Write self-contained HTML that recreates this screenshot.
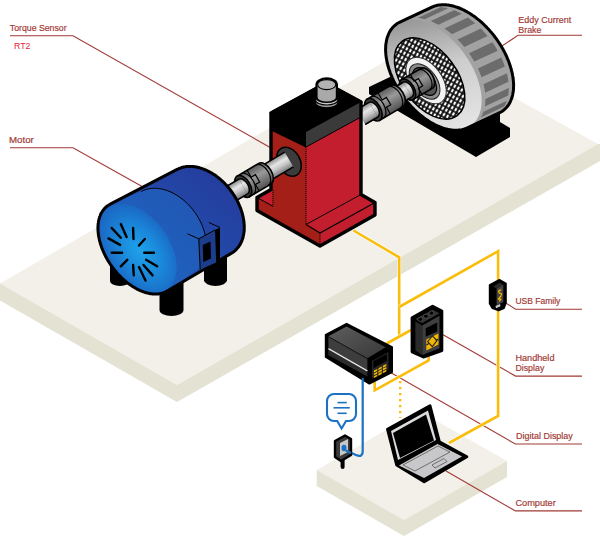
<!DOCTYPE html>
<html><head><meta charset="utf-8"><style>
html,body{margin:0;padding:0;background:#fff;width:600px;height:539px;overflow:hidden}
svg{display:block}
text{font-family:"Liberation Sans",sans-serif}
</style></head><body>
<svg width="600" height="539" viewBox="0 0 600 539">

<defs>
<radialGradient id="motorFace" cx="0.54" cy="0.5" r="0.62">
  <stop offset="0" stop-color="#1ea2ea"/><stop offset="0.45" stop-color="#1a88da"/><stop offset="0.8" stop-color="#1b6cc6"/><stop offset="1" stop-color="#1f58b6"/>
</radialGradient>
<linearGradient id="motorBody" x1="0" y1="1" x2="1" y2="0">
  <stop offset="0" stop-color="#1f5cbb"/><stop offset="1" stop-color="#25399a"/>
</linearGradient>
<linearGradient id="shaftG" x1="0" y1="0" x2="0" y2="1">
  <stop offset="0" stop-color="#8a8a8c"/><stop offset="0.35" stop-color="#e6e6e6"/><stop offset="0.6" stop-color="#c9c9cb"/><stop offset="1" stop-color="#7a7a7c"/>
</linearGradient>
<linearGradient id="coupG" x1="0" y1="0" x2="0" y2="1">
  <stop offset="0" stop-color="#5a5a5a"/><stop offset="0.4" stop-color="#9a9a9a"/><stop offset="1" stop-color="#505050"/>
</linearGradient>
<linearGradient id="rimG" gradientUnits="userSpaceOnUse" x1="420" y1="15" x2="445" y2="130">
  <stop offset="0" stop-color="#959595"/><stop offset="0.45" stop-color="#cdcdcd"/><stop offset="1" stop-color="#e4e4e4"/>
</linearGradient>
<linearGradient id="boxTop" x1="0" y1="0" x2="1" y2="1">
  <stop offset="0" stop-color="#5e5e5e"/><stop offset="1" stop-color="#383838"/>
</linearGradient>
<pattern id="mesh" width="4" height="5" patternUnits="userSpaceOnUse" patternTransform="rotate(-25)">
  <rect width="4" height="5" fill="#0a0a0a"/><rect x="0.9" y="0.8" width="2.2" height="3.4" fill="#f8f8f8"/>
</pattern>
<linearGradient id="capG" x1="0" y1="1" x2="1" y2="0">
  <stop offset="0" stop-color="#1d68c6"/><stop offset="1" stop-color="#2355b2"/>
</linearGradient>
</defs>
<polygon points="0,283.5 416,43.5 598,144 177,385" fill="#f2f0e9"/>
<polygon points="0,283.5 177,385 177,402 0,300.5" fill="#e4e2d3"/>
<polygon points="177,385 598,144 600,144 600,161 177,402" fill="#e4e2d3"/>
<polygon points="316.7,470 419,411 507,461 404,520" fill="#f2f0e9"/>
<polygon points="316.7,470 404,520 404,536 316.7,486" fill="#e4e2d3"/>
<polygon points="404,520 507,461 507,477 404,536" fill="#e4e2d3"/>
<polyline points="10,35.7 73,35.7 272,148.5" fill="none" stroke="#a23a35" stroke-width="1.1"/>
<polyline points="10,147.7 73,147.7 143,187" fill="none" stroke="#a23a35" stroke-width="1.1"/>
<polyline points="582,35.3 518,35.3 499,48" fill="none" stroke="#a23a35" stroke-width="1.1"/>
<polyline points="582,309.2 515.6,309.2 505,302.5" fill="none" stroke="#a23a35" stroke-width="1.1"/>
<polyline points="582,376.1 515.6,376.1 440,333" fill="none" stroke="#a23a35" stroke-width="1.1"/>
<polyline points="582,444 515.4,444 391,372.8" fill="none" stroke="#a23a35" stroke-width="1.1"/>
<polyline points="582,510.9 515.4,510.9 446,471" fill="none" stroke="#a23a35" stroke-width="1.1"/>
<polyline points="353.5,230.5 399.2,257.3 399.2,337" fill="none" stroke="#fff" stroke-width="3.8" stroke-linejoin="miter" opacity="0.9" />
<polyline points="353.5,230.5 399.2,257.3 399.2,337" fill="none" stroke="#fabd0c" stroke-width="2.6" stroke-linejoin="miter" />
<polyline points="399.2,307 498.1,251.2 498.1,416 449,443" fill="none" stroke="#fff" stroke-width="3.8" stroke-linejoin="miter" opacity="0.9" />
<polyline points="399.2,307 498.1,251.2 498.1,416 449,443" fill="none" stroke="#fabd0c" stroke-width="2.6" stroke-linejoin="miter" />
<polyline points="386,344 411,330" fill="none" stroke="#fff" stroke-width="3.8" stroke-linejoin="miter" opacity="0.9" />
<polyline points="386,344 411,330" fill="none" stroke="#fabd0c" stroke-width="2.6" stroke-linejoin="miter" />
<polyline points="374.7,382 374.7,390.4 428.6,360.5 428.6,356" fill="none" stroke="#fff" stroke-width="3.8" stroke-linejoin="miter" opacity="0.9" />
<polyline points="374.7,382 374.7,390.4 428.6,360.5 428.6,356" fill="none" stroke="#fabd0c" stroke-width="2.6" stroke-linejoin="miter" />
<polyline points="400.2,381 400.2,418" fill="none" stroke="#fabd0c" stroke-width="2.4" stroke-dasharray="2.2 3.8"/>
<polygon points="369,87 369,94 476,157 510,137 510,128 500,122 500,100 440,60 392,76" fill="#000"/>
<polygon points="385.6,49.6 385.6,48.3 385.7,47.1 385.7,45.8 385.8,44.6 386,43.4 386.2,42.2 386.4,41.1 386.6,39.9 386.9,38.8 387.2,37.8 387.5,36.7 387.9,35.7 388.3,34.7 388.7,33.7 389.2,32.7 389.6,31.8 390.2,30.9 390.7,30.1 391.3,29.2 391.9,28.5 392.5,27.7 393.2,27 393.9,26.3 394.6,25.6 395.4,25 396.1,24.4 396.9,23.8 397.7,23.3 398.6,22.8 399.5,22.3 400.4,21.9 432.4,6.9 433.3,6.5 434.2,6.2 435.2,5.9 436.2,5.6 437.2,5.3 438.2,5.1 439.2,5 440.3,4.9 441.4,4.8 442.5,4.7 443.6,4.7 444.7,4.7 445.8,4.8 447,4.9 448.1,5 449.3,5.2 450.5,5.4 451.7,5.7 452.9,6 454.1,6.3 455.3,6.7 456.6,7.1 457.8,7.5 459.1,8 460.3,8.5 461.6,9 462.8,9.6 464.1,10.2 465.3,10.9 466.6,11.6 467.8,12.3 469.1,13 470.3,13.8 471.6,14.6 472.8,15.5 474.1,16.3 475.3,17.2 476.5,18.2 477.7,19.1 479,20.1 480.2,21.1 481.4,22.2 482.5,23.2 483.7,24.3 484.9,25.5 486,26.6 487.1,27.8 488.3,29 489.4,30.2 490.4,31.4 491.5,32.6 492.6,33.9 493.6,35.2 494.6,36.5 495.6,37.8 496.6,39.1 497.5,40.5 498.4,41.9 499.3,43.2 500.2,44.6 501.1,46 501.9,47.4 502.7,48.8 503.5,50.2 504.3,51.7 505,53.1 505.7,54.5 506.4,56 507,57.4 507.6,58.9 508.2,60.3 508.8,61.8 509.3,63.2 509.8,64.7 510.3,66.1 510.7,67.5 511.2,69 511.5,70.4 511.9,71.8 512.2,73.2 512.5,74.6 512.7,76 513,77.4 513.1,78.8 513.3,80.1 513.4,81.5 513.5,82.8 513.6,84.1 513.6,85.4 513.6,86.7 513.5,87.9 513.5,89.2 513.4,90.4 513.2,91.6 513,92.8 512.8,93.9 512.6,95.1 512.3,96.2 512,97.2 511.7,98.3 511.3,99.3 510.9,100.3 510.5,101.3 510,102.3 509.6,103.2 509,104.1 508.5,104.9 507.9,105.8 507.3,106.5 506.7,107.3 506,108 505.3,108.7 504.6,109.4 503.8,110 503.1,110.6 502.3,111.2 501.5,111.7 500.6,112.2 499.7,112.7 498.8,113.1 466.8,128.1 465.9,128.5 465,128.8 464,129.1 463,129.4 462,129.7 461,129.9 460,130 458.9,130.1 457.8,130.2 456.7,130.3 455.6,130.3 454.5,130.3 453.4,130.2 452.2,130.1 451.1,130 449.9,129.8 448.7,129.6 447.5,129.3 446.3,129 445.1,128.7 443.9,128.3 442.6,127.9 441.4,127.5 440.1,127 438.9,126.5 437.6,126 436.4,125.4 435.1,124.8 433.9,124.1 432.6,123.4 431.4,122.7 430.1,122 428.9,121.2 427.6,120.4 426.4,119.5 425.1,118.7 423.9,117.8 422.7,116.8 421.5,115.9 420.2,114.9 419,113.9 417.8,112.8 416.7,111.8 415.5,110.7 414.3,109.5 413.2,108.4 412.1,107.2 410.9,106 409.8,104.8 408.8,103.6 407.7,102.4 406.6,101.1 405.6,99.8 404.6,98.5 403.6,97.2 402.6,95.9 401.7,94.5 400.8,93.1 399.9,91.8 399,90.4 398.1,89 397.3,87.6 396.5,86.2 395.7,84.8 394.9,83.3 394.2,81.9 393.5,80.5 392.8,79 392.2,77.6 391.6,76.1 391,74.7 390.4,73.2 389.9,71.8 389.4,70.3 388.9,68.9 388.5,67.5 388,66 387.7,64.6 387.3,63.2 387,61.8 386.7,60.4 386.5,59 386.2,57.6 386.1,56.2 385.9,54.9 385.8,53.5 385.7,52.2 385.6,50.9" fill="#a2a2a2"/>
<polygon points="406.1,19.3 407.3,19 408.5,18.7 409.7,18.4 411,18.2 412.3,18 435.7,7.1 434.4,7.2 433.1,7.4 431.9,7.7 430.7,8 429.5,8.4" fill="#6c6c6c"/>
<polygon points="417.6,18 419,18.1 420.5,18.3 421.9,18.6 423.4,18.9 424.8,19.2 448.2,8.3 446.7,7.9 445.3,7.6 443.8,7.4 442.4,7.2 441,7.1" fill="#6c6c6c"/>
<polygon points="430.8,21.1 432.3,21.8 433.8,22.4 435.3,23.2 436.9,23.9 438.4,24.8 461.8,13.8 460.2,13 458.7,12.2 457.2,11.5 455.6,10.8 454.1,10.2" fill="#6c6c6c"/>
<polygon points="444.4,28.5 445.9,29.6 447.4,30.7 448.9,31.8 450.4,33 451.9,34.2 475.2,23.3 473.8,22.1 472.3,20.9 470.8,19.7 469.3,18.6 467.8,17.5" fill="#6c6c6c"/>
<polygon points="457.5,39.5 458.9,40.9 460.3,42.3 461.6,43.8 462.9,45.3 464.2,46.9 487.6,35.9 486.3,34.4 485,32.9 483.6,31.4 482.3,29.9 480.9,28.5" fill="#6c6c6c"/>
<polygon points="469,53.2 470.1,54.8 471.2,56.5 472.3,58.2 473.3,59.9 474.3,61.6 497.7,50.7 496.7,49 495.7,47.2 494.6,45.6 493.5,43.9 492.3,42.2" fill="#6c6c6c"/>
<polygon points="477.9,68.5 478.7,70.3 479.5,72 480.2,73.8 480.9,75.6 481.5,77.3 504.8,66.4 504.2,64.6 503.5,62.8 502.8,61.1 502.1,59.3 501.3,57.5" fill="#6c6c6c"/>
<polygon points="483.5,84.2 483.9,85.9 484.3,87.7 484.6,89.4 484.9,91 485.1,92.7 508.4,81.7 508.2,80.1 508,78.4 507.7,76.7 507.3,75 506.9,73.3" fill="#6c6c6c"/>
<polygon points="485.4,99 485.4,100.6 485.3,102.1 485.2,103.6 485,105.1 484.8,106.5 508.2,95.5 508.4,94.1 508.6,92.6 508.7,91.2 508.8,89.6 508.8,88.1" fill="#6c6c6c"/>
<polygon points="483.4,111.8 483,113 482.5,114.2 481.9,115.4 481.3,116.5 480.7,117.6 504,106.6 504.7,105.5 505.3,104.4 505.8,103.3 506.3,102.1 506.8,100.8" fill="#6c6c6c"/>
<polygon points="477.7,121.4 476.9,122.2 476,123 475.1,123.7 474.1,124.4 473.1,125.1 496.4,114.1 497.4,113.5 498.4,112.8 499.3,112 500.2,111.3 501.1,110.4" fill="#6c6c6c"/>
<polygon points="471.1,125.6 470,126.4 468.9,127.1 467.7,127.7 466.5,128.2 465.3,128.7 464,129.1 462.7,129.5 461.4,129.8 460,130 458.6,130.2 457.1,130.3 455.6,130.3 454.1,130.2 452.6,130.1 451.1,130 449.5,129.7 447.9,129.4 446.3,129 444.7,128.6 443,128.1 441.4,127.5 439.7,126.8 438.1,126.1 436.4,125.4 434.7,124.5 433,123.7 431.4,122.7 429.7,121.7 428,120.7 426.4,119.5 424.7,118.4 423.1,117.1 421.5,115.9 419.8,114.5 418.2,113.2 416.7,111.8 415.1,110.3 413.6,108.8 412.1,107.2 410.6,105.6 409.1,104 407.7,102.4 406.3,100.7 404.9,98.9 403.6,97.2 402.3,95.4 401.1,93.6 399.9,91.8 398.7,89.9 397.6,88.1 396.5,86.2 395.4,84.3 394.4,82.4 393.5,80.5 392.6,78.5 391.8,76.6 391,74.7 390.2,72.7 389.5,70.8 388.9,68.9 388.3,67 387.8,65.1 387.3,63.2 386.9,61.3 386.5,59.4 386.2,57.6 386,55.8 385.8,54 385.7,52.2 385.6,50.5 385.6,48.8 385.7,47.1 385.8,45.4 385.9,43.8 386.2,42.2 386.4,40.7 386.8,39.2 387.2,37.8 387.6,36.4 388.1,35 388.7,33.7 389.3,32.4 390,31.2 390.7,30.1 391.5,29 392.3,27.9 393.2,27 394.1,26 395.1,25.2 396.1,24.4 397.2,23.6 398.3,22.9 399.5,22.3 400.7,21.8 401.9,21.3 403.2,20.9 404.5,20.5 405.8,20.2 407.2,20 408.6,19.8 410.1,19.7 411.6,19.7 413.1,19.8 414.6,19.9 416.1,20 417.7,20.3 419.3,20.6 420.9,21 422.5,21.4 424.2,21.9 425.8,22.5 427.5,23.2 429.1,23.9 430.8,24.6 432.5,25.5 434.2,26.3 435.8,27.3 437.5,28.3 439.2,29.3 440.8,30.5 442.5,31.6 444.1,32.9 445.7,34.1 447.4,35.5 449,36.8 450.5,38.2 452.1,39.7 453.6,41.2 455.1,42.8 456.6,44.4 458.1,46 459.5,47.6 460.9,49.3 462.3,51.1 463.6,52.8 464.9,54.6 466.1,56.4 467.3,58.2 468.5,60.1 469.6,61.9 470.7,63.8 471.8,65.7 472.8,67.6 473.7,69.5 474.6,71.5 475.4,73.4 476.2,75.3 477,77.3 477.7,79.2 478.3,81.1 478.9,83 479.4,84.9 479.9,86.8 480.3,88.7 480.7,90.6 481,92.4 481.2,94.2 481.4,96 481.5,97.8 481.6,99.5 481.6,101.2 481.5,102.9 481.4,104.6 481.3,106.2 481,107.8 480.8,109.3 480.4,110.8 480,112.2 479.6,113.6 479.1,115 478.5,116.3 477.9,117.6 477.2,118.8 476.5,119.9 475.7,121 474.9,122.1 474,123 473.1,124 472.1,124.8" fill="url(#rimG)"/>
<polygon points="385.6,49.6 385.6,48.3 385.7,47.1 385.7,45.8 385.8,44.6 386,43.4 386.2,42.2 386.4,41.1 386.6,39.9 386.9,38.8 387.2,37.8 387.5,36.7 387.9,35.7 388.3,34.7 388.7,33.7 389.2,32.7 389.6,31.8 390.2,30.9 390.7,30.1 391.3,29.2 391.9,28.5 392.5,27.7 393.2,27 393.9,26.3 394.6,25.6 395.4,25 396.1,24.4 396.9,23.8 397.7,23.3 398.6,22.8 399.5,22.3 400.4,21.9 432.4,6.9 433.3,6.5 434.2,6.2 435.2,5.9 436.2,5.6 437.2,5.3 438.2,5.1 439.2,5 440.3,4.9 441.4,4.8 442.5,4.7 443.6,4.7 444.7,4.7 445.8,4.8 447,4.9 448.1,5 449.3,5.2 450.5,5.4 451.7,5.7 452.9,6 454.1,6.3 455.3,6.7 456.6,7.1 457.8,7.5 459.1,8 460.3,8.5 461.6,9 462.8,9.6 464.1,10.2 465.3,10.9 466.6,11.6 467.8,12.3 469.1,13 470.3,13.8 471.6,14.6 472.8,15.5 474.1,16.3 475.3,17.2 476.5,18.2 477.7,19.1 479,20.1 480.2,21.1 481.4,22.2 482.5,23.2 483.7,24.3 484.9,25.5 486,26.6 487.1,27.8 488.3,29 489.4,30.2 490.4,31.4 491.5,32.6 492.6,33.9 493.6,35.2 494.6,36.5 495.6,37.8 496.6,39.1 497.5,40.5 498.4,41.9 499.3,43.2 500.2,44.6 501.1,46 501.9,47.4 502.7,48.8 503.5,50.2 504.3,51.7 505,53.1 505.7,54.5 506.4,56 507,57.4 507.6,58.9 508.2,60.3 508.8,61.8 509.3,63.2 509.8,64.7 510.3,66.1 510.7,67.5 511.2,69 511.5,70.4 511.9,71.8 512.2,73.2 512.5,74.6 512.7,76 513,77.4 513.1,78.8 513.3,80.1 513.4,81.5 513.5,82.8 513.6,84.1 513.6,85.4 513.6,86.7 513.5,87.9 513.5,89.2 513.4,90.4 513.2,91.6 513,92.8 512.8,93.9 512.6,95.1 512.3,96.2 512,97.2 511.7,98.3 511.3,99.3 510.9,100.3 510.5,101.3 510,102.3 509.6,103.2 509,104.1 508.5,104.9 507.9,105.8 507.3,106.5 506.7,107.3 506,108 505.3,108.7 504.6,109.4 503.8,110 503.1,110.6 502.3,111.2 501.5,111.7 500.6,112.2 499.7,112.7 498.8,113.1 466.8,128.1 465.9,128.5 465,128.8 464,129.1 463,129.4 462,129.7 461,129.9 460,130 458.9,130.1 457.8,130.2 456.7,130.3 455.6,130.3 454.5,130.3 453.4,130.2 452.2,130.1 451.1,130 449.9,129.8 448.7,129.6 447.5,129.3 446.3,129 445.1,128.7 443.9,128.3 442.6,127.9 441.4,127.5 440.1,127 438.9,126.5 437.6,126 436.4,125.4 435.1,124.8 433.9,124.1 432.6,123.4 431.4,122.7 430.1,122 428.9,121.2 427.6,120.4 426.4,119.5 425.1,118.7 423.9,117.8 422.7,116.8 421.5,115.9 420.2,114.9 419,113.9 417.8,112.8 416.7,111.8 415.5,110.7 414.3,109.5 413.2,108.4 412.1,107.2 410.9,106 409.8,104.8 408.8,103.6 407.7,102.4 406.6,101.1 405.6,99.8 404.6,98.5 403.6,97.2 402.6,95.9 401.7,94.5 400.8,93.1 399.9,91.8 399,90.4 398.1,89 397.3,87.6 396.5,86.2 395.7,84.8 394.9,83.3 394.2,81.9 393.5,80.5 392.8,79 392.2,77.6 391.6,76.1 391,74.7 390.4,73.2 389.9,71.8 389.4,70.3 388.9,68.9 388.5,67.5 388,66 387.7,64.6 387.3,63.2 387,61.8 386.7,60.4 386.5,59 386.2,57.6 386.1,56.2 385.9,54.9 385.8,53.5 385.7,52.2 385.6,50.9" fill="none" stroke="#000" stroke-width="3" stroke-linejoin="round"/>
<ellipse cx="429.6" cy="78.5" rx="46.3" ry="27.4" transform="rotate(53.5 429.6 78.5)" fill="url(#mesh)" stroke="#000" stroke-width="1.5"/>
<ellipse cx="426.1" cy="80.5" rx="26.5" ry="15.7" transform="rotate(53.5 426.1 80.5)" fill="#f2f2f2" stroke="#333" stroke-width="1"/>
<ellipse cx="424.6" cy="81.5" rx="20.2" ry="11.9" transform="rotate(53.5 424.6 81.5)" fill="#8a8a8a" stroke="#222" stroke-width="1"/>
<ellipse cx="424.6" cy="81.5" rx="15.8" ry="9.3" transform="rotate(53.5 424.6 81.5)" fill="#555" stroke="#000" stroke-width="1.2"/>
<g transform="translate(361 117) rotate(-30.5)">
<rect x="0" y="-8.5" width="74.3" height="17" fill="url(#shaftG)"/>
<line x1="0" y1="-8.5" x2="74.3" y2="-8.5" stroke="#000" stroke-width="1.5"/>
<line x1="0" y1="8.5" x2="74.3" y2="8.5" stroke="#000" stroke-width="1.5"/>
</g>
<g transform="translate(417 84) rotate(-30.5)">
<path d="M-11 -11.5 H11 A6.7 11.5 0 0 1 11 11.5 H-11 Z" fill="url(#coupG)" stroke="#000" stroke-width="1.6"/>
<path d="M-6.5 -11.5 A6.7 11.5 0 0 1 -6.5 11.5" fill="none" stroke="#000" stroke-width="1.2"/>
<path d="M-1 -11.5 V-4 H4 V4.5 H-1 V11.5" fill="none" stroke="#000" stroke-width="1.2"/>
<path d="M8 -11.5 A6.7 11.5 0 0 1 8 11.5" fill="none" stroke="#000" stroke-width="1.2"/>
<ellipse cx="-11" cy="0" rx="6.7" ry="11.5" fill="#3a3a3a" stroke="#000" stroke-width="1.6"/>
</g>
<g transform="translate(388 101.1) rotate(-30.5)">
<rect x="0" y="-8.5" width="22.7" height="17" fill="url(#shaftG)"/>
<path d="M22.7 -8.5 A4.9 8.5 0 0 1 22.7 8.5" fill="url(#shaftG)" stroke="#000" stroke-width="1.5"/>
<line x1="0" y1="-8.5" x2="22.7" y2="-8.5" stroke="#000" stroke-width="1.5"/>
<line x1="0" y1="8.5" x2="22.7" y2="8.5" stroke="#000" stroke-width="1.5"/>
</g>
<g transform="translate(385 102.9) rotate(-30.5)">
<path d="M-13.5 -12.3 H13.5 A7.1 12.3 0 0 1 13.5 12.3 H-13.5 Z" fill="url(#coupG)" stroke="#000" stroke-width="1.6"/>
<path d="M-9 -12.3 A7.1 12.3 0 0 1 -9 12.3" fill="none" stroke="#000" stroke-width="1.2"/>
<path d="M-1 -12.3 V-4 H4 V4.5 H-1 V12.3" fill="none" stroke="#000" stroke-width="1.2"/>
<path d="M10.5 -12.3 A7.1 12.3 0 0 1 10.5 12.3" fill="none" stroke="#000" stroke-width="1.2"/>
<ellipse cx="-13.5" cy="0" rx="7.1" ry="12.3" fill="#3a3a3a" stroke="#000" stroke-width="1.6"/>
</g>
<g transform="translate(361 117) rotate(-30.5)">
<rect x="0" y="-8.5" width="14.4" height="17" fill="url(#shaftG)"/>
<path d="M14.4 -8.5 A4.9 8.5 0 0 1 14.4 8.5" fill="url(#shaftG)" stroke="#000" stroke-width="1.5"/>
<line x1="0" y1="-8.5" x2="14.4" y2="-8.5" stroke="#000" stroke-width="1.5"/>
<line x1="0" y1="8.5" x2="14.4" y2="8.5" stroke="#000" stroke-width="1.5"/>
</g>
<polygon points="271,113 306,132 306,224.5 320,233 320,246 257,210.5 257,197.5 272,189" fill="#a31f17"/>
<polygon points="306,132 361,102 361,194.5 306,224.5" fill="#c21e2d"/>
<polygon points="271,113 326,83 361,102 306,132" fill="#000" stroke="#000" stroke-width="3" stroke-linejoin="round"/>
<polygon points="270,112 307,131 306,147 271,130" fill="#000"/>
<polygon points="306,132 361,102 361,117 306,147" fill="#3a3a3a"/>
<polygon points="257,197.5 272.5,189 273,206.3" fill="#c21e2d"/>
<polygon points="306,224.5 361,194.5 375,202.5 320,233" fill="#c21e2d"/>
<polygon points="320,233 375,202.5 375,215 320,246" fill="#c21e2d"/>
<polyline points="271,113 271,130 306,147 361,117" fill="none" stroke="#000" stroke-width="1"/>
<line x1="306" y1="147" x2="306" y2="224.5" stroke="#000" stroke-width="0.9" stroke-dasharray="1.2 0.8"/>
<line x1="273" y1="190" x2="273" y2="206.3" stroke="#000" stroke-width="0.9" stroke-dasharray="1.2 0.8"/>
<line x1="257" y1="197.5" x2="273" y2="206.3" stroke="#000" stroke-width="1"/>
<polyline points="306,224.5 320,233 375,202.5" fill="none" stroke="#000" stroke-width="1.2"/>
<line x1="320" y1="233" x2="320" y2="246" stroke="#000" stroke-width="0.9" stroke-dasharray="1.2 0.8"/>
<line x1="306" y1="224.5" x2="361" y2="194.5" stroke="#000" stroke-width="1"/>
<polygon points="271,113 326,83 361,102 361,194.5 375,202.5 375,215 320,246 257,210.5 257,197.5 271,189.5" fill="none" stroke="#000" stroke-width="3.4" stroke-linejoin="round"/>
<path d="M315.4,100 V102.6 A11.3,5.2 0 0 0 338,102.6 V100 Z" fill="#9c9c9c" stroke="#000" stroke-width="1.2"/>
<ellipse cx="326.7" cy="100" rx="11.3" ry="5" fill="#c8c8c8" stroke="#000" stroke-width="1.2"/>
<path d="M315.4,84.5 A11.3,7.2 0 0 1 338,84.5 V97.5 A11.3,5.6 0 0 1 315.4,97.5 Z" fill="#000"/>
<path d="M317.6,85 V97.2 A9.1,4.3 0 0 0 335.8,97.2 V85 Z" fill="#a9a9a9"/>
<ellipse cx="326.7" cy="84.6" rx="9.1" ry="5" fill="#b3b3b3" stroke="#000" stroke-width="1.1"/>
<ellipse cx="289" cy="161.7" rx="15.5" ry="11" transform="rotate(60 289 161.7)" fill="#3c3c3c" stroke="#000" stroke-width="1.5"/>
<g transform="translate(212 204.9) rotate(-30.5)">
<rect x="0" y="-8.5" width="89.4" height="17" fill="url(#shaftG)"/>
<line x1="0" y1="-8.5" x2="89.4" y2="-8.5" stroke="#000" stroke-width="1.5"/>
<line x1="0" y1="8.5" x2="89.4" y2="8.5" stroke="#000" stroke-width="1.5"/>
</g>
<g transform="translate(254 180.1) rotate(-30.5)">
<path d="M-12.5 -12 H12.5 A7 12 0 0 1 12.5 12 H-12.5 Z" fill="url(#coupG)" stroke="#000" stroke-width="1.6"/>
<path d="M-8 -12 A7 12 0 0 1 -8 12" fill="none" stroke="#000" stroke-width="1.2"/>
<path d="M-1 -12 V-4 H4 V4.5 H-1 V12" fill="none" stroke="#000" stroke-width="1.2"/>
<path d="M9.5 -12 A7 12 0 0 1 9.5 12" fill="none" stroke="#000" stroke-width="1.2"/>
<ellipse cx="-12.5" cy="0" rx="7" ry="12" fill="#3a3a3a" stroke="#000" stroke-width="1.6"/>
</g>
<g transform="translate(212 204.9) rotate(-30.5)">
<rect x="0" y="-8.5" width="36.3" height="17" fill="url(#shaftG)"/>
<path d="M36.3 -8.5 A4.9 8.5 0 0 1 36.3 8.5" fill="url(#shaftG)" stroke="#000" stroke-width="1.5"/>
<line x1="0" y1="-8.5" x2="36.3" y2="-8.5" stroke="#000" stroke-width="1.5"/>
<line x1="0" y1="8.5" x2="36.3" y2="8.5" stroke="#000" stroke-width="1.5"/>
</g>
<path d="M110 255 V281 A10 5 0 0 0 130 281 V255 Z" fill="#000"/>
<path d="M204 250 V280.2 A11.5 5.8 0 0 0 227 280.2 V250 Z" fill="#000"/>
<path d="M159.5 270 V310 A12 6 0 0 0 183.5 310 V270 Z" fill="#000"/>
<polygon points="97.9,228.2 98,227.1 98,226.1 98.1,225 98.1,224 98.3,223 98.4,222 98.6,221 98.8,220 99,219.1 99.3,218.1 99.5,217.2 99.9,216.3 100.2,215.5 100.5,214.6 100.9,213.8 101.3,213 101.8,212.2 102.2,211.5 102.7,210.8 103.2,210.1 103.8,209.4 104.3,208.7 104.9,208.1 105.5,207.5 106.1,207 106.8,206.4 107.4,205.9 108.1,205.5 108.8,205 109.6,204.6 110.3,204.2 177.6,169.2 178.5,168.8 179.3,168.4 180.1,168.1 181,167.8 181.8,167.5 182.7,167.3 183.6,167 184.5,166.9 185.5,166.7 186.4,166.6 187.4,166.5 188.3,166.4 189.3,166.4 190.3,166.4 191.3,166.4 192.3,166.5 193.3,166.6 194.3,166.7 195.4,166.8 196.4,167 197.4,167.2 198.5,167.5 199.5,167.8 200.6,168.1 201.6,168.4 202.7,168.8 203.7,169.2 204.8,169.6 205.8,170 206.9,170.5 207.9,171 209,171.6 210,172.1 211.1,172.7 212.1,173.3 213.1,174 214.1,174.6 215.2,175.3 216.2,176 217.2,176.8 218.2,177.6 219.1,178.3 220.1,179.2 221.1,180 222,180.8 223,181.7 223.9,182.6 224.8,183.5 225.7,184.5 226.6,185.4 227.4,186.4 228.3,187.4 229.1,188.4 229.9,189.4 230.7,190.5 231.5,191.5 232.3,192.6 233,193.7 233.7,194.8 234.4,195.9 235.1,197 235.8,198.1 236.4,199.2 237,200.4 237.6,201.5 238.2,202.7 238.7,203.8 239.2,205 239.7,206.2 240.2,207.3 240.7,208.5 241.1,209.7 241.5,210.9 241.9,212.1 242.2,213.2 242.5,214.4 242.8,215.6 243.1,216.8 243.3,217.9 243.5,219.1 243.7,220.3 243.9,221.4 244,222.6 244.1,223.7 244.2,224.8 244.2,226 244.3,227.1 244.2,228.2 244.2,229.3 244.2,230.4 244.1,231.4 243.9,232.5 243.8,233.5 243.6,234.5 243.4,235.5 243.2,236.5 243,237.5 242.7,238.5 242.4,239.4 242,240.3 241.7,241.2 241.3,242.1 240.9,243 240.5,243.8 240,244.6 239.5,245.4 239,246.2 238.5,246.9 237.9,247.6 237.3,248.3 236.7,249 236.1,249.6 235.5,250.3 234.8,250.8 234.1,251.4 233.4,252 232.7,252.5 231.9,252.9 231.1,253.4 167.2,291 166.4,291.4 165.7,291.8 164.9,292.2 164.1,292.5 163.3,292.8 162.5,293.1 161.7,293.3 160.8,293.5 160,293.7 159.1,293.8 158.2,293.9 157.3,294 156.3,294.1 155.4,294.1 154.4,294.1 153.5,294 152.5,293.9 151.5,293.8 150.5,293.7 149.5,293.5 148.5,293.3 147.5,293.1 146.5,292.8 145.5,292.5 144.4,292.2 143.4,291.8 142.4,291.5 141.3,291 140.3,290.6 139.2,290.1 138.2,289.6 137.1,289.1 136.1,288.5 135,287.9 134,287.3 132.9,286.7 131.9,286 130.9,285.3 129.8,284.6 128.8,283.9 127.8,283.1 126.8,282.3 125.8,281.5 124.8,280.6 123.8,279.8 122.8,278.9 121.9,278 120.9,277.1 120,276.1 119,275.1 118.1,274.2 117.2,273.2 116.3,272.1 115.4,271.1 114.6,270.1 113.7,269 112.9,267.9 112.1,266.8 111.3,265.7 110.5,264.6 109.8,263.5 109.1,262.3 108.3,261.2 107.6,260 107,258.8 106.3,257.7 105.7,256.5 105.1,255.3 104.5,254.1 103.9,252.9 103.4,251.7 102.9,250.5 102.4,249.3 101.9,248.1 101.5,246.9 101.1,245.7 100.7,244.5 100.3,243.3 100,242.1 99.6,240.9 99.4,239.7 99.1,238.5 98.9,237.3 98.6,236.1 98.5,235 98.3,233.8 98.2,232.7 98.1,231.6 98,230.4 98,229.3" fill="url(#motorBody)"/>
<clipPath id="mclip"><polygon points="97.9,228.2 98,227.1 98,226.1 98.1,225 98.1,224 98.3,223 98.4,222 98.6,221 98.8,220 99,219.1 99.3,218.1 99.5,217.2 99.9,216.3 100.2,215.5 100.5,214.6 100.9,213.8 101.3,213 101.8,212.2 102.2,211.5 102.7,210.8 103.2,210.1 103.8,209.4 104.3,208.7 104.9,208.1 105.5,207.5 106.1,207 106.8,206.4 107.4,205.9 108.1,205.5 108.8,205 109.6,204.6 110.3,204.2 177.6,169.2 178.5,168.8 179.3,168.4 180.1,168.1 181,167.8 181.8,167.5 182.7,167.3 183.6,167 184.5,166.9 185.5,166.7 186.4,166.6 187.4,166.5 188.3,166.4 189.3,166.4 190.3,166.4 191.3,166.4 192.3,166.5 193.3,166.6 194.3,166.7 195.4,166.8 196.4,167 197.4,167.2 198.5,167.5 199.5,167.8 200.6,168.1 201.6,168.4 202.7,168.8 203.7,169.2 204.8,169.6 205.8,170 206.9,170.5 207.9,171 209,171.6 210,172.1 211.1,172.7 212.1,173.3 213.1,174 214.1,174.6 215.2,175.3 216.2,176 217.2,176.8 218.2,177.6 219.1,178.3 220.1,179.2 221.1,180 222,180.8 223,181.7 223.9,182.6 224.8,183.5 225.7,184.5 226.6,185.4 227.4,186.4 228.3,187.4 229.1,188.4 229.9,189.4 230.7,190.5 231.5,191.5 232.3,192.6 233,193.7 233.7,194.8 234.4,195.9 235.1,197 235.8,198.1 236.4,199.2 237,200.4 237.6,201.5 238.2,202.7 238.7,203.8 239.2,205 239.7,206.2 240.2,207.3 240.7,208.5 241.1,209.7 241.5,210.9 241.9,212.1 242.2,213.2 242.5,214.4 242.8,215.6 243.1,216.8 243.3,217.9 243.5,219.1 243.7,220.3 243.9,221.4 244,222.6 244.1,223.7 244.2,224.8 244.2,226 244.3,227.1 244.2,228.2 244.2,229.3 244.2,230.4 244.1,231.4 243.9,232.5 243.8,233.5 243.6,234.5 243.4,235.5 243.2,236.5 243,237.5 242.7,238.5 242.4,239.4 242,240.3 241.7,241.2 241.3,242.1 240.9,243 240.5,243.8 240,244.6 239.5,245.4 239,246.2 238.5,246.9 237.9,247.6 237.3,248.3 236.7,249 236.1,249.6 235.5,250.3 234.8,250.8 234.1,251.4 233.4,252 232.7,252.5 231.9,252.9 231.1,253.4 167.2,291 166.4,291.4 165.7,291.8 164.9,292.2 164.1,292.5 163.3,292.8 162.5,293.1 161.7,293.3 160.8,293.5 160,293.7 159.1,293.8 158.2,293.9 157.3,294 156.3,294.1 155.4,294.1 154.4,294.1 153.5,294 152.5,293.9 151.5,293.8 150.5,293.7 149.5,293.5 148.5,293.3 147.5,293.1 146.5,292.8 145.5,292.5 144.4,292.2 143.4,291.8 142.4,291.5 141.3,291 140.3,290.6 139.2,290.1 138.2,289.6 137.1,289.1 136.1,288.5 135,287.9 134,287.3 132.9,286.7 131.9,286 130.9,285.3 129.8,284.6 128.8,283.9 127.8,283.1 126.8,282.3 125.8,281.5 124.8,280.6 123.8,279.8 122.8,278.9 121.9,278 120.9,277.1 120,276.1 119,275.1 118.1,274.2 117.2,273.2 116.3,272.1 115.4,271.1 114.6,270.1 113.7,269 112.9,267.9 112.1,266.8 111.3,265.7 110.5,264.6 109.8,263.5 109.1,262.3 108.3,261.2 107.6,260 107,258.8 106.3,257.7 105.7,256.5 105.1,255.3 104.5,254.1 103.9,252.9 103.4,251.7 102.9,250.5 102.4,249.3 101.9,248.1 101.5,246.9 101.1,245.7 100.7,244.5 100.3,243.3 100,242.1 99.6,240.9 99.4,239.7 99.1,238.5 98.9,237.3 98.6,236.1 98.5,235 98.3,233.8 98.2,232.7 98.1,231.6 98,230.4 98,229.3"/></clipPath>
<g clip-path="url(#mclip)">
<polygon points="97.9,228.2 98,227.1 98,226.1 98.1,225 98.1,224 98.3,223 98.4,222 98.6,221 98.8,220 99,219.1 99.3,218.1 99.5,217.2 99.9,216.3 100.2,215.5 100.5,214.6 100.9,213.8 101.3,213 101.8,212.2 102.2,211.5 102.7,210.8 103.2,210.1 103.8,209.4 104.3,208.7 104.9,208.1 105.5,207.5 106.1,207 106.8,206.4 107.4,205.9 108.1,205.5 108.8,205 109.6,204.6 110.3,204.2 111.1,203.8 111.9,203.5 143.5,190.5 144.3,190.1 145.2,189.8 146,189.5 146.9,189.3 147.8,189 148.7,188.8 149.6,188.7 150.6,188.5 151.5,188.4 152.5,188.3 153.4,188.3 154.4,188.3 155.4,188.3 156.4,188.3 157.4,188.4 158.4,188.5 159.4,188.6 160.4,188.8 161.4,189 162.4,189.2 163.5,189.4 164.5,189.7 165.5,190 166.5,190.3 167.6,190.7 168.6,191.1 169.6,191.5 170.7,192 171.7,192.4 172.7,192.9 173.7,193.5 174.7,194 175.8,194.6 176.8,195.2 177.8,195.8 178.7,196.5 179.7,197.2 180.7,197.9 181.7,198.6 182.6,199.4 183.6,200.1 184.5,200.9 185.4,201.7 186.3,202.6 187.2,203.4 188.1,204.3 188.9,205.2 189.8,206.1 190.6,207.1 191.4,208 192.2,209 193,210 193.8,210.9 194.5,212 195.3,213 196,214 196.7,215.1 197.3,216.1 198,217.2 198.6,218.3 199.2,219.4 199.8,220.5 200.4,221.6 200.9,222.7 201.4,223.8 201.9,224.9 202.4,226.1 202.8,227.2 203.2,228.3 203.6,229.5 204,230.6 204.4,231.8 204.7,232.9 205,234 205.2,235.2 205.5,236.3 205.7,237.5 205.9,238.6 206,239.7 206.2,240.8 206.3,242 206.4,243.1 206.4,244.2 206.4,245.3 206.4,246.4 206.4,247.4 206.4,248.5 206.3,249.5 206.2,250.6 206,251.6 205.9,252.6 205.7,253.6 205.5,254.6 205.2,255.6 205,256.5 204.7,257.5 204.3,258.4 204,259.3 203.6,260.2 203.2,261 202.8,261.9 202.4,262.7 201.9,263.5 201.4,264.3 200.9,265 200.4,265.8 199.8,266.5 199.2,267.2 198.6,267.8 198,268.5 197.3,269.1 196.7,269.7 196,270.2 195.3,270.8 168.6,290.1 167.9,290.5 167.2,291 166.4,291.4 165.7,291.8 164.9,292.2 164.1,292.5 163.3,292.8 162.5,293.1 161.7,293.3 160.8,293.5 160,293.7 159.1,293.8 158.2,293.9 157.3,294 156.3,294.1 155.4,294.1 154.4,294.1 153.5,294 152.5,293.9 151.5,293.8 150.5,293.7 149.5,293.5 148.5,293.3 147.5,293.1 146.5,292.8 145.5,292.5 144.4,292.2 143.4,291.8 142.4,291.5 141.3,291 140.3,290.6 139.2,290.1 138.2,289.6 137.1,289.1 136.1,288.5 135,287.9 134,287.3 132.9,286.7 131.9,286 130.9,285.3 129.8,284.6 128.8,283.9 127.8,283.1 126.8,282.3 125.8,281.5 124.8,280.6 123.8,279.8 122.8,278.9 121.9,278 120.9,277.1 120,276.1 119,275.1 118.1,274.2 117.2,273.2 116.3,272.1 115.4,271.1 114.6,270.1 113.7,269 112.9,267.9 112.1,266.8 111.3,265.7 110.5,264.6 109.8,263.5 109.1,262.3 108.3,261.2 107.6,260 107,258.8 106.3,257.7 105.7,256.5 105.1,255.3 104.5,254.1 103.9,252.9 103.4,251.7 102.9,250.5 102.4,249.3 101.9,248.1 101.5,246.9 101.1,245.7 100.7,244.5 100.3,243.3 100,242.1 99.6,240.9 99.4,239.7 99.1,238.5 98.9,237.3 98.6,236.1 98.5,235 98.3,233.8 98.2,232.7 98.1,231.6 98,230.4 98,229.3" fill="url(#capG)"/>
<ellipse cx="138" cy="248" rx="50" ry="31" transform="rotate(54 138 248)" fill="url(#motorFace)"/>
</g>
<polyline points="141.3,191.5 142.9,190.7 144.6,190 146.3,189.4 148.1,189 149.9,188.6 151.8,188.4 153.7,188.3 155.7,188.3 157.7,188.4 159.7,188.7 161.7,189 163.8,189.5 165.9,190.1 167.9,190.8 170,191.7 172,192.6 174.1,193.7 176.1,194.8 178.1,196.1 180,197.4 182,198.9 183.9,200.4 185.7,202 187.5,203.7 189.2,205.5 190.9,207.4 192.5,209.3 194,211.3 195.5,213.3 196.9,215.4 198.2,217.6 199.4,219.7 200.6,221.9 201.6,224.2 202.5,226.4 203.4,228.7 204.1,231 204.8,233.3 205.3,235.6 205.8,237.8 206.1,240.1 206.3,242.3 206.4,244.5 206.4,246.7" fill="none" stroke="#000" stroke-width="1"/>
<polygon points="97.9,228.2 98,227.1 98,226.1 98.1,225 98.1,224 98.3,223 98.4,222 98.6,221 98.8,220 99,219.1 99.3,218.1 99.5,217.2 99.9,216.3 100.2,215.5 100.5,214.6 100.9,213.8 101.3,213 101.8,212.2 102.2,211.5 102.7,210.8 103.2,210.1 103.8,209.4 104.3,208.7 104.9,208.1 105.5,207.5 106.1,207 106.8,206.4 107.4,205.9 108.1,205.5 108.8,205 109.6,204.6 110.3,204.2 177.6,169.2 178.5,168.8 179.3,168.4 180.1,168.1 181,167.8 181.8,167.5 182.7,167.3 183.6,167 184.5,166.9 185.5,166.7 186.4,166.6 187.4,166.5 188.3,166.4 189.3,166.4 190.3,166.4 191.3,166.4 192.3,166.5 193.3,166.6 194.3,166.7 195.4,166.8 196.4,167 197.4,167.2 198.5,167.5 199.5,167.8 200.6,168.1 201.6,168.4 202.7,168.8 203.7,169.2 204.8,169.6 205.8,170 206.9,170.5 207.9,171 209,171.6 210,172.1 211.1,172.7 212.1,173.3 213.1,174 214.1,174.6 215.2,175.3 216.2,176 217.2,176.8 218.2,177.6 219.1,178.3 220.1,179.2 221.1,180 222,180.8 223,181.7 223.9,182.6 224.8,183.5 225.7,184.5 226.6,185.4 227.4,186.4 228.3,187.4 229.1,188.4 229.9,189.4 230.7,190.5 231.5,191.5 232.3,192.6 233,193.7 233.7,194.8 234.4,195.9 235.1,197 235.8,198.1 236.4,199.2 237,200.4 237.6,201.5 238.2,202.7 238.7,203.8 239.2,205 239.7,206.2 240.2,207.3 240.7,208.5 241.1,209.7 241.5,210.9 241.9,212.1 242.2,213.2 242.5,214.4 242.8,215.6 243.1,216.8 243.3,217.9 243.5,219.1 243.7,220.3 243.9,221.4 244,222.6 244.1,223.7 244.2,224.8 244.2,226 244.3,227.1 244.2,228.2 244.2,229.3 244.2,230.4 244.1,231.4 243.9,232.5 243.8,233.5 243.6,234.5 243.4,235.5 243.2,236.5 243,237.5 242.7,238.5 242.4,239.4 242,240.3 241.7,241.2 241.3,242.1 240.9,243 240.5,243.8 240,244.6 239.5,245.4 239,246.2 238.5,246.9 237.9,247.6 237.3,248.3 236.7,249 236.1,249.6 235.5,250.3 234.8,250.8 234.1,251.4 233.4,252 232.7,252.5 231.9,252.9 231.1,253.4 167.2,291 166.4,291.4 165.7,291.8 164.9,292.2 164.1,292.5 163.3,292.8 162.5,293.1 161.7,293.3 160.8,293.5 160,293.7 159.1,293.8 158.2,293.9 157.3,294 156.3,294.1 155.4,294.1 154.4,294.1 153.5,294 152.5,293.9 151.5,293.8 150.5,293.7 149.5,293.5 148.5,293.3 147.5,293.1 146.5,292.8 145.5,292.5 144.4,292.2 143.4,291.8 142.4,291.5 141.3,291 140.3,290.6 139.2,290.1 138.2,289.6 137.1,289.1 136.1,288.5 135,287.9 134,287.3 132.9,286.7 131.9,286 130.9,285.3 129.8,284.6 128.8,283.9 127.8,283.1 126.8,282.3 125.8,281.5 124.8,280.6 123.8,279.8 122.8,278.9 121.9,278 120.9,277.1 120,276.1 119,275.1 118.1,274.2 117.2,273.2 116.3,272.1 115.4,271.1 114.6,270.1 113.7,269 112.9,267.9 112.1,266.8 111.3,265.7 110.5,264.6 109.8,263.5 109.1,262.3 108.3,261.2 107.6,260 107,258.8 106.3,257.7 105.7,256.5 105.1,255.3 104.5,254.1 103.9,252.9 103.4,251.7 102.9,250.5 102.4,249.3 101.9,248.1 101.5,246.9 101.1,245.7 100.7,244.5 100.3,243.3 100,242.1 99.6,240.9 99.4,239.7 99.1,238.5 98.9,237.3 98.6,236.1 98.5,235 98.3,233.8 98.2,232.7 98.1,231.6 98,230.4 98,229.3" fill="none" stroke="#000" stroke-width="3" stroke-linejoin="round"/>
<line x1="111.7" y1="228" x2="120.8" y2="237.7" stroke="#000" stroke-width="2.4" stroke-linecap="round"/>
<line x1="120.8" y1="224.1" x2="126.6" y2="237.1" stroke="#000" stroke-width="2.4" stroke-linecap="round"/>
<line x1="133.1" y1="228" x2="133.5" y2="239" stroke="#000" stroke-width="2.4" stroke-linecap="round"/>
<line x1="144.8" y1="239" x2="139" y2="245.5" stroke="#000" stroke-width="2.4" stroke-linecap="round"/>
<line x1="144.2" y1="252.7" x2="153.9" y2="252.7" stroke="#000" stroke-width="2.4" stroke-linecap="round"/>
<line x1="146.1" y1="259.8" x2="157.1" y2="266.3" stroke="#000" stroke-width="2.4" stroke-linecap="round"/>
<line x1="143.5" y1="265" x2="152.6" y2="275.4" stroke="#000" stroke-width="2.4" stroke-linecap="round"/>
<line x1="139" y1="267" x2="145.5" y2="280.6" stroke="#000" stroke-width="2.4" stroke-linecap="round"/>
<line x1="133.1" y1="265" x2="133.8" y2="275.4" stroke="#000" stroke-width="2.4" stroke-linecap="round"/>
<line x1="127.3" y1="259.8" x2="120.8" y2="266.3" stroke="#000" stroke-width="2.4" stroke-linecap="round"/>
<line x1="111.7" y1="252.7" x2="122.1" y2="252.7" stroke="#000" stroke-width="2.4" stroke-linecap="round"/>
<line x1="108.4" y1="238.4" x2="120.1" y2="244.9" stroke="#000" stroke-width="2.4" stroke-linecap="round"/>
<polygon points="198.8,238.8 215,230 216.2,262.5 200.2,269.5" fill="#1c3c8c"/>
<polygon points="215,230 220,227.5 220,260 216.2,262.5" fill="#000"/>
<polygon points="202.8,245 210.5,241.5 211,258.5 203.3,262" fill="#000"/>
<path d="M187.5,233.8 L198.8,238.8 L215,230 M208.8,222.5 L220,227.5 M198.8,238.8 L200.2,269.5" fill="none" stroke="#000" stroke-width="1"/>
<polygon points="325.8,334.9 346.6,323.8 392,347.2 392,372 369.4,383.6 325.8,357" fill="#000" stroke="#000" stroke-width="2" stroke-linejoin="round"/>
<polygon points="328.4,336.2 346.6,326.4 385.6,347.2 367.4,358.3" fill="url(#boxTop)"/>
<polygon points="328.4,337 367.4,359 367.4,370 328.4,347.9" fill="#3d3d3d"/>
<polygon points="328.4,349.5 367.4,371.6 367.4,376.4 328.4,355.2" fill="#2c2c2c"/>
<line x1="328.4" y1="348.6" x2="367.4" y2="370.8" stroke="#e6e6e6" stroke-width="1.4"/>
<polygon points="372,361 388.5,352 388.5,369.5 372,378.5" fill="#262626"/>
<polygon points="373.4,361.2 386.9,353.9 386.9,361 373.4,368.2" fill="#000"/>
<polygon points="373.9,370.6 377.3,368.9 377.3,370.7 373.9,372.5" fill="#f2b705"/>
<polygon points="378.4,368.2 381.8,366.5 381.8,368.3 378.4,370.1" fill="#f2b705"/>
<polygon points="382.9,365.8 386.3,364.1 386.3,365.9 382.9,367.7" fill="#f2b705"/>
<polygon points="373.9,373.4 377.3,371.7 377.3,373.5 373.9,375.3" fill="#f2b705"/>
<polygon points="378.4,371 381.8,369.3 381.8,371.1 378.4,372.9" fill="#f2b705"/>
<polygon points="382.9,368.6 386.3,366.9 386.3,368.7 382.9,370.5" fill="#f2b705"/>
<polygon points="373.9,376.2 377.3,374.5 377.3,376.3 373.9,378.1" fill="#f2b705"/>
<polygon points="378.4,373.8 381.8,372.1 381.8,373.9 378.4,375.7" fill="#f2b705"/>
<polygon points="382.9,371.4 386.3,369.7 386.3,371.5 382.9,373.3" fill="#f2b705"/>
<polygon points="412.1,317.8 432.6,306.3 441.8,311 441.8,350.6 423.4,357 412.1,351.8" fill="#000" stroke="#000" stroke-width="3" stroke-linejoin="round"/>
<polygon points="415.4,319 432.6,309.8 439.5,313.2 422.3,323" fill="#333"/>
<ellipse cx="420.3" cy="319.3" rx="2.4" ry="2.1" fill="#000" stroke="#5a5a5a" stroke-width="0.7"/>
<ellipse cx="425.9" cy="316.2" rx="2.4" ry="2.1" fill="#000" stroke="#5a5a5a" stroke-width="0.7"/>
<ellipse cx="431.5" cy="313.1" rx="2.4" ry="2.1" fill="#000" stroke="#5a5a5a" stroke-width="0.7"/>
<polygon points="415.4,321.5 422.3,325.5 422.3,355 415.4,350.6" fill="#2a2a2a"/>
<polygon points="422.3,325.5 439.5,315.7 439.5,348.3 422.3,355" fill="#3e3e3e"/>
<polygon points="425.7,328.2 437.2,322.4 437.2,331.6 425.7,336.8" fill="#000"/>
<polygon points="426.3,339.5 438.4,333.4 438.4,344.5 426.3,350.6" fill="#f2b705"/>
<path d="M432.3,335.8 L437,340.6 L432.3,346.6 L427.6,341.6 Z M426.3,345 L429,343.6 M438.4,339 L435.6,340.4" fill="none" stroke="#222" stroke-width="1.1"/>
<polygon points="489.6,284.9 499.4,279.8 506,283.4 506,302.8 504,308.3 498.6,310.6 492.4,308.3 489.6,303.6" fill="#000" stroke="#000" stroke-width="1.6" stroke-linejoin="round"/>
<polygon points="493.5,286.5 499.8,282.6 502.9,284.5 496.6,288.4" fill="#2a2a2a"/>
<polygon points="496.6,288.4 503.3,284.5 503.3,302 496.6,305.2" fill="#444"/>
<polygon points="495.5,306 500,304 500.5,306.2 496,308.2" fill="#c8c8c8"/>
<path d="M501.3,290.2 q-2.6,-0.4 -2.6,1.5 q0,1.3 1.6,1.6 q1.6,0.4 1.2,1.8 M501.3,295.5 l-3,3.6 h2.6 l-1.6,2.4" stroke="#f2b705" stroke-width="1.3" fill="none" stroke-linejoin="round"/>
<polygon points="387.5,429.2 430,405.8 439.3,441.7 466.8,456.8 424.2,481.8 396.7,465" fill="#000" stroke="#000" stroke-width="3" stroke-linejoin="round"/>
<polygon points="391,431 428,410.5 436,440 398,460" fill="#dcdcdc"/>
<polygon points="393,433 426,414.5 434,440.5 400,458" fill="#000"/>
<polygon points="399,465.5 437.5,444 462,456.5 424,478" fill="#c8c8ca"/>
<polygon points="403,465 438,446 450,452 415,471" fill="none" stroke="#555" stroke-width="0.8"/>
<polygon points="432,465 444,458.5 447,461.5 435,468" fill="none" stroke="#555" stroke-width="0.8"/>
<path d="M362.7,378 V451 Q362.7,458 356,455 L345.7,450.6" fill="none" stroke="#1b72c4" stroke-width="2.2"/>
<path d="M334,394 h15 a7,7 0 0 1 7,7 v13 a7,7 0 0 1 -7,7 h-3 l-4.4,7.5 l-4.4,-7.5 h-3.2 a7,7 0 0 1 -7,-7 v-13 a7,7 0 0 1 7,-7 z" fill="#fff" stroke="#1b72c4" stroke-width="2.1"/>
<line x1="337.5" y1="402.6" x2="346.7" y2="402.6" stroke="#1b72c4" stroke-width="1.6"/>
<line x1="333.5" y1="407.8" x2="349.8" y2="407.8" stroke="#1b72c4" stroke-width="1.6"/>
<line x1="337.5" y1="413.3" x2="346.7" y2="413.3" stroke="#1b72c4" stroke-width="1.6"/>
<rect x="340.6" y="455" width="4" height="14" rx="2" fill="#000"/>
<polygon points="335,441 345,435.5 351,439 351,455 341,461 335,457" fill="#3a3a3a" stroke="#000" stroke-width="2.4" stroke-linejoin="round"/>
<polygon points="340,443 348,439 348,452 340,456" fill="#c8c8c8"/>
<ellipse cx="344" cy="448" rx="2.5" ry="3.2" fill="#1b72c4"/>
<path d="M345.7,450.6 L351,453" stroke="#1b72c4" stroke-width="2.2"/>
<text x="9.8" y="30.8" font-size="8.8" fill="#a23a35" stroke="#a23a35" stroke-width="0.18" textLength="56.8" lengthAdjust="spacingAndGlyphs">Torque Sensor</text>
<text x="14.1" y="48.6" font-size="9.6" fill="#e8283c" stroke="#e8283c" stroke-width="0.05" textLength="16.4" lengthAdjust="spacingAndGlyphs">RT2</text>
<text x="9" y="142.7" font-size="8.8" fill="#a23a35" stroke="#a23a35" stroke-width="0.18" textLength="24.8" lengthAdjust="spacingAndGlyphs">Motor</text>
<text x="518.3" y="22.7" font-size="8.8" fill="#a23a35" stroke="#a23a35" stroke-width="0.18" textLength="52.9" lengthAdjust="spacingAndGlyphs">Eddy Current</text>
<text x="518.3" y="32.5" font-size="8.8" fill="#a23a35" stroke="#a23a35" stroke-width="0.18" textLength="23.1" lengthAdjust="spacingAndGlyphs">Brake</text>
<text x="515.4" y="303.6" font-size="8.8" fill="#a23a35" stroke="#a23a35" stroke-width="0.18" textLength="45" lengthAdjust="spacingAndGlyphs">USB Family</text>
<text x="515.4" y="361.2" font-size="8.8" fill="#a23a35" stroke="#a23a35" stroke-width="0.18" textLength="39.1" lengthAdjust="spacingAndGlyphs">Handheld</text>
<text x="515.4" y="371.3" font-size="8.8" fill="#a23a35" stroke="#a23a35" stroke-width="0.18" textLength="28.9" lengthAdjust="spacingAndGlyphs">Display</text>
<text x="516.1" y="438.7" font-size="8.8" fill="#a23a35" stroke="#a23a35" stroke-width="0.18" textLength="56.7" lengthAdjust="spacingAndGlyphs">Digital Display</text>
<text x="515.4" y="506" font-size="8.8" fill="#a23a35" stroke="#a23a35" stroke-width="0.18" textLength="40.4" lengthAdjust="spacingAndGlyphs">Computer</text>
</svg></body></html>
